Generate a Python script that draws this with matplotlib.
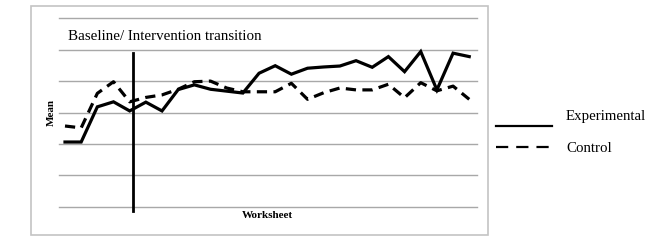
"""
plot.py  —  Experimental vs control worksheet means (line chart)
"""

import matplotlib as mpl
import matplotlib.pyplot as plt
import matplotlib.patches as mpatches
from matplotlib.lines import Line2D
import numpy as np

mpl.rcParams.update({
    "font.family": "Liberation Serif",
    "font.size": 10,
})

# ── data (gridline spacing = 1 unit) ────────────────────────────────────────
worksheet = np.arange(26)
experimental = [2.06, 2.06, 3.18, 3.34, 3.05, 3.33, 3.05, 3.73, 3.88, 3.74,
                3.68, 3.62, 4.25, 4.49, 4.22, 4.41, 4.45, 4.48, 4.65, 4.44,
                4.78, 4.30, 4.94, 3.72, 4.89, 4.78]
control = [2.57, 2.51, 3.61, 3.98, 3.34, 3.48, 3.56, 3.74, 3.98, 4.00,
           3.78, 3.66, 3.66, 3.66, 3.93, 3.42, 3.63, 3.78, 3.72, 3.72,
           3.90, 3.47, 3.95, 3.69, 3.84, 3.42]
gridlines = [0, 1, 2, 3, 4, 5, 6]
transition_at = 4.22

W, H = 660, 246
fig = plt.figure(figsize=(W / 100, H / 100), dpi=100)

# Chart-area border (gray frame round plot + labels)
frame = mpatches.Rectangle((31 / W, 1 - 235 / H), 457 / W, 229 / H,
                           transform=fig.transFigure, fill=False,
                           edgecolor="#c4c4c4", linewidth=1.2)
fig.add_artist(frame)

ax = fig.add_axes([59 / W, 1 - 206.7 / H, 418 / W, 188.4 / H])
ax.set_xlim(-0.371, 25.48)
ax.set_ylim(0, 6)
for s in ax.spines.values():
    s.set_visible(False)
ax.set_xticks([])
ax.set_yticks([])
ax.patch.set_alpha(0)

for g in gridlines:
    ax.axhline(g, color="#a8a8a8", linewidth=1.0, zorder=1, clip_on=False)

lw = 2.3
ax.plot(worksheet, control, color="black", linewidth=lw,
        dashes=(3.2, 2), solid_joinstyle="miter", zorder=3)
ax.plot(worksheet, experimental, color="black", linewidth=lw,
        solid_joinstyle="miter", zorder=4)

# Baseline / intervention transition marker
ax.plot([transition_at, transition_at], [-0.13, 4.9], color="black",
        linewidth=2.0, clip_on=False, zorder=5)

fig.text(68 / W, 1 - 37 / H, "Baseline/ Intervention transition",
         ha="left", va="center", fontsize=10.8)
fig.text(51 / W, 1 - 112 / H, "Mean", rotation=90, ha="center",
         va="center", fontsize=8, fontweight="bold")
fig.text(267.5 / W, 1 - 215 / H, "Worksheet", ha="center", va="center",
         fontsize=8, fontweight="bold")

# Legend, drawn by hand to match the Excel layout
fig.add_artist(Line2D([496 / W, 552 / W], [1 - 126 / H, 1 - 126 / H],
                      transform=fig.transFigure, color="black", linewidth=1.6))
fig.add_artist(Line2D([496 / W, 552 / W], [1 - 146.7 / H, 1 - 146.7 / H],
                      transform=fig.transFigure, color="black", linewidth=1.6,
                      dashes=(5.5, 3.6)))
fig.text(566 / W, 1 - 116.7 / H, "Experimental", ha="left", va="center",
         fontsize=10.7)
fig.text(566 / W, 1 - 148 / H, "Control", ha="left", va="center",
         fontsize=10.7)

fig.savefig("out.png", dpi=100)
